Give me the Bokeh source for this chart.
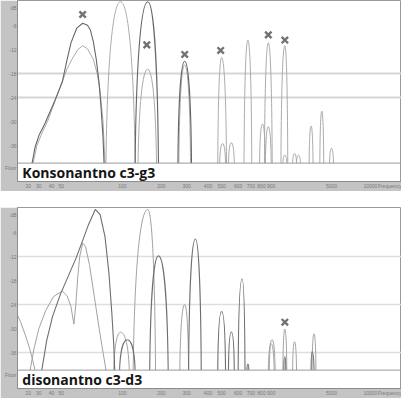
import numpy as np
from bokeh.plotting import figure
from bokeh.layouts import column
from bokeh.models import FixedTicker, Span, Range1d
from bokeh.core.properties import value
from bokeh.embed import file_html
from bokeh.resources import INLINE

FLOOR = -40.4

# ---------------- tick labels ----------------
freq_tick_pos = [11, 22, 35, 45, 108, 148, 174, 196, 210, 227, 240, 251, 261, 323, 363, 383]
freq_tick_lab = ["20", "30", "40", "50", "100", "200", "300", "400", "500", "600",
                 "700", "800", "900", "5000", "10000", "Frequency"]
db_tick_pos = [-1.5, -6, -12, -18, -24, -30, -36, -41.5]
db_tick_lab = ["dB", "-6", "-12", "-18", "-24", "-30", "-36", "Floor"]

# ---------------- top panel: Konsonantno c3-g3 ----------------
top_big_dark_x = [15, 18, 22, 28, 38, 46, 51, 55, 61, 67, 72, 75, 78, 81, 84, 86, 88, 89]
top_big_dark_y = [-40.4, -36.5, -33.5, -30.6, -25.0, -20.1, -14.5, -10.3, -6.6, -5.4,
                  -5.9, -7.1, -10.0, -14.4, -20.5, -26.7, -34.0, -40.4]
top_big_light_x = [16, 20, 25, 31, 41, 46, 51, 56, 62, 67, 72, 78, 82, 85, 88, 90]
top_big_light_y = [-40.4, -36.0, -33.0, -29.9, -23.3, -20.1, -16.8, -14.4, -12.0, -11.0,
                   -11.8, -14.4, -18.0, -22.5, -30.0, -40.4]

top_dark_left = [121, 165]
top_dark_peak = [134, 172]
top_dark_right = [145, 179]
top_dark_db = [0.0, -14.9]

top_light_left = [91, 124, 166, 206, 208, 217, 233, 254, 249, 255, 271, 273, 283, 287, 300, 311, 321]
top_light_peak = [106, 134, 172, 210, 211, 220, 237, 258, 252, 258, 275, 275, 285, 289, 302, 313, 323]
top_light_right = [121, 143, 178, 215, 214, 223, 241, 262, 255, 261, 278, 277, 287, 291, 304, 315, 325]
top_light_db = [0.0, -16.9, -15.8, -14.0, -35.5, -35.3, -9.6, -10.3, -30.6, -31.3, -11.0,
                -38.4, -38.0, -38.4, -31.1, -27.4, -36.7]

top_mark_x = [67, 133, 172, 209, 258, 275]
top_mark_db = [-3.2, -10.8, -13.2, -12.2, -8.3, -9.6]

# ---------------- bottom panel: disonantno c3-d3 ----------------
bot_edge_x = [-1, 3, 8, 12, 15, 18]
bot_edge_y = [-26.2, -28.2, -31.6, -34.6, -37.3, -40.4]
bot_big_dark_x = [25, 30, 36, 44, 52, 60, 67, 73, 80, 85, 90, 94, 97, 99, 100]
bot_big_dark_y = [-40.4, -33.0, -27.0, -21.5, -17.0, -12.5, -8.0, -4.0, -0.2, -1.5,
                  -7.0, -16.0, -26.0, -34.0, -40.4]
bot_big_light_x = [13, 17, 22, 29, 37, 46, 51, 55, 58, 60, 62, 64, 67, 70, 74, 79, 84, 88, 91]
bot_big_light_y = [-40.4, -35.0, -30.0, -25.5, -22.0, -20.6, -21.8, -24.5, -28.9, -24.0,
                   -17.0, -12.0, -8.6, -9.5, -14.0, -22.0, -30.0, -36.0, -40.4]

bot_dark_left = [105, 136, 176, 206, 217, 227, 236, 274, 302]
bot_dark_peak = [113, 145, 183, 210, 220, 231, 237, 275, 303]
bot_dark_right = [121, 155, 189, 214, 223, 234, 238, 276, 305]
bot_dark_db = [-32.8, -11.8, -7.6, -25.7, -30.9, -17.6, -38.9, -37.0, -35.8]

bot_light_left = [99, 119, 167, 258, 259, 273, 283, 303]
bot_light_peak = [106, 134, 172, 262, 261, 275, 285, 305]
bot_light_right = [115, 142, 176, 265, 264, 277, 287, 307]
bot_light_db = [-30.9, -0.2, -24.0, -32.8, -33.8, -30.1, -33.3, -31.3]

bot_mark_x = [275]
bot_mark_db = [-28.4]


def draw_lobes(p, xl, xp, xr, yp, color, lw):
    xl = np.asarray(xl, float)
    xp = np.asarray(xp, float)
    xr = np.asarray(xr, float)
    yp = np.asarray(yp, float)
    h = yp - FLOOR
    a, b, c = 0.08, 0.6, 0.55
    p.bezier(x0=xl, y0=np.full_like(xl, FLOOR), x1=xp, y1=yp,
             cx0=xl + a * (xp - xl), cy0=FLOOR + b * h,
             cx1=xp - c * (xp - xl), cy1=yp,
             line_color=color, line_width=lw)
    p.bezier(x0=xr, y0=np.full_like(xr, FLOOR), x1=xp, y1=yp,
             cx0=xr - a * (xr - xp), cy0=FLOOR + b * h,
             cx1=xp + c * (xr - xp), cy1=yp,
             line_color=color, line_width=lw)


def make_panel(grid_ticks, grid_w, grid_c):
    p = figure(frame_width=384, frame_height=181, output_backend="svg",
               toolbar_location=None, x_range=Range1d(0, 395), y_range=Range1d(-45.0, 0.3),
               min_border_left=17, min_border_right=0, min_border_top=0, min_border_bottom=6)
    p.background_fill_color = "white"
    p.border_fill_color = "#c4c4c4"
    p.outline_line_color = "#9a9a9a"
    p.xgrid.visible = False
    p.ygrid.ticker = FixedTicker(ticks=grid_ticks)
    p.ygrid.grid_line_color = grid_c
    p.ygrid.grid_line_width = grid_w

    p.xaxis.ticker = FixedTicker(ticks=freq_tick_pos)
    p.xaxis.major_label_overrides = {k: v for k, v in zip(freq_tick_pos, freq_tick_lab)}
    p.yaxis.ticker = FixedTicker(ticks=db_tick_pos)
    p.yaxis.major_label_overrides = {k: v for k, v in zip(db_tick_pos, db_tick_lab)}
    for ax in (p.xaxis[0], p.yaxis[0]):
        ax.major_tick_in = 0
        ax.major_tick_out = 0
        ax.minor_tick_in = 0
        ax.minor_tick_out = 0
        ax.major_label_text_font_size = "5px"
        ax.major_label_text_color = "#7a7a7a"
        ax.major_label_standoff = 1
        ax.axis_line_color = "#8c8c8c"
    p.add_layout(Span(location=FLOOR, dimension="width", line_color="#9a9a9a", line_width=1))
    return p


# ---- top ----
p1 = make_panel([-18, -24], 2, "#d6d6d6")
DARK1, LIGHT1 = "#666666", "#ababab"
draw_lobes(p1, top_light_left, top_light_peak, top_light_right, top_light_db, LIGHT1, 1.0)
draw_lobes(p1, top_dark_left, top_dark_peak, top_dark_right, top_dark_db, DARK1, 1.1)
p1.line(top_big_light_x, top_big_light_y, line_color=LIGHT1, line_width=1.0)
p1.line(top_big_dark_x, top_big_dark_y, line_color=DARK1, line_width=1.1)
p1.scatter(top_mark_x, top_mark_db, marker="x", size=9, line_width=2.4, line_color="#727272")
p1.text(x=[5], y=[-42.8], text=["Konsonantno c3-g3"], text_font=value("Open Sans"),
        text_font_style="bold", text_font_size="14px", text_baseline="middle",
        text_color="#151515")

# ---- bottom ----
p2 = make_panel([-12, -24, -36], 1.5, "#dedede")
DARK2, LIGHT2 = "#6e6e6e", "#a2a2a2"
draw_lobes(p2, bot_light_left, bot_light_peak, bot_light_right, bot_light_db, LIGHT2, 1.0)
draw_lobes(p2, bot_dark_left, bot_dark_peak, bot_dark_right, bot_dark_db, DARK2, 1.1)
p2.line(bot_edge_x, bot_edge_y, line_color=LIGHT2, line_width=1.0)
p2.line(bot_big_light_x, bot_big_light_y, line_color=LIGHT2, line_width=1.0)
p2.line(bot_big_dark_x, bot_big_dark_y, line_color=DARK2, line_width=1.1)
p2.scatter(bot_mark_x, bot_mark_db, marker="x", size=9, line_width=2.4, line_color="#727272")
p2.text(x=[5], y=[-42.8], text=["disonantno c3-d3"], text_font=value("Open Sans"),
        text_font_style="bold", text_font_size="14px", text_baseline="middle",
        text_color="#151515")

layout = column(p1, p2, spacing=16)
open("out.html", "w").write(file_html(layout, INLINE))
